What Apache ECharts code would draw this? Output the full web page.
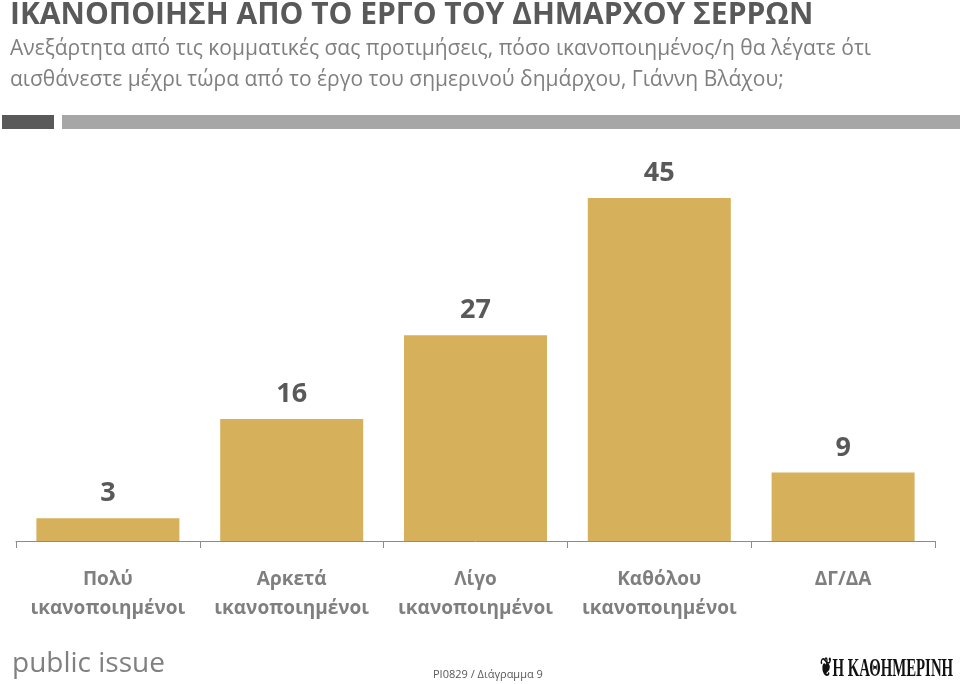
<!DOCTYPE html>
<html><head><meta charset="utf-8">
<script src="https://cdn.jsdelivr.net/npm/echarts@6/dist/echarts.min.js"></script>
<style>html,body{margin:0;padding:0;background:#fff}#c{width:960px;height:684px}</style>
</head><body><div id="c"></div>
<script>
const categories = ["Πολύ\nικανοποιημένοι", "Αρκετά\nικανοποιημένοι", "Λίγο\nικανοποιημένοι", "Καθόλου\nικανοποιημένοι", "ΔΓ/ΔΑ"];
const values = [3, 16, 27, 45, 9];
const titleText = "ΙΚΑΝΟΠΟΙΗΣΗ ΑΠΟ ΤΟ ΕΡΓΟ ΤΟΥ ΔΗΜΑΡΧΟΥ ΣΕΡΡΩΝ";
const subtitleLines = ["Ανεξάρτητα από τις κομματικές σας προτιμήσεις, πόσο ικανοποιημένος/η θα λέγατε ότι", "αισθάνεστε μέχρι τώρα από το έργο του σημερινού δημάρχου, Γιάννη Βλάχου;"];
const footerCode = "PI0829 / Διάγραμμα 9";

const FONT = "'Open Sans', 'Noto Sans', sans-serif";
const chart = echarts.init(document.getElementById('c'), null, {renderer: 'canvas'});
chart.setOption({
  animation: false,
  backgroundColor: '#ffffff',
  grid: {left: 16, right: 25, top: 160, bottom: 143, containLabel: false},
  xAxis: {
    type: 'category',
    data: categories,
    axisLine: {lineStyle: {color: '#8c8c8c', width: 1}},
    axisTick: {show: true, length: 7, lineStyle: {color: '#8c8c8c'}},
    axisLabel: {margin: 24, fontFamily: FONT, fontSize: 19, fontWeight: 'bold', color: '#7f7f7f', lineHeight: 29, interval: 0}
  },
  yAxis: {type: 'value', min: 0, max: 50, show: false, splitLine: {show: false}},
  series: [{
    type: 'bar',
    data: values,
    barWidth: 143,
    itemStyle: {color: '#D6B05B'},
    label: {show: true, position: 'top', distance: 11, fontFamily: FONT, fontSize: 27, fontWeight: 'bold', color: '#595959'}
  }],
  graphic: [
    {type: 'text', left: 10, top: 0, style: {text: titleText, font: "bold 30px " + FONT, fill: '#595959'}},
    {type: 'text', left: 10, top: 39, style: {text: subtitleLines[0], font: "21px " + FONT, fill: '#7f7f7f'}},
    {type: 'text', left: 10, top: 70, style: {text: subtitleLines[1], font: "21px " + FONT, fill: '#7f7f7f'}},
    {type: 'rect', shape: {x: 2, y: 115, width: 52, height: 14}, style: {fill: '#595959'}},
    {type: 'rect', shape: {x: 62, y: 115, width: 898, height: 14}, style: {fill: '#a6a6a6'}},
    {type: 'text', left: 12, top: 650, style: {text: 'public issue', font: "28px " + FONT, fill: '#808080'}},
    {type: 'text', left: 433, top: 669, style: {text: footerCode, font: "11px " + FONT, fill: '#595959'}},
    {type: 'text', x: 820, y: 656, scaleX: 0.57, style: {text: '❦Η ΚΑΘΗΜΕΡΙΝΗ', font: "bold 26px 'Liberation Serif', serif", fill: '#111'}}
  ]
});
</script></body></html>
